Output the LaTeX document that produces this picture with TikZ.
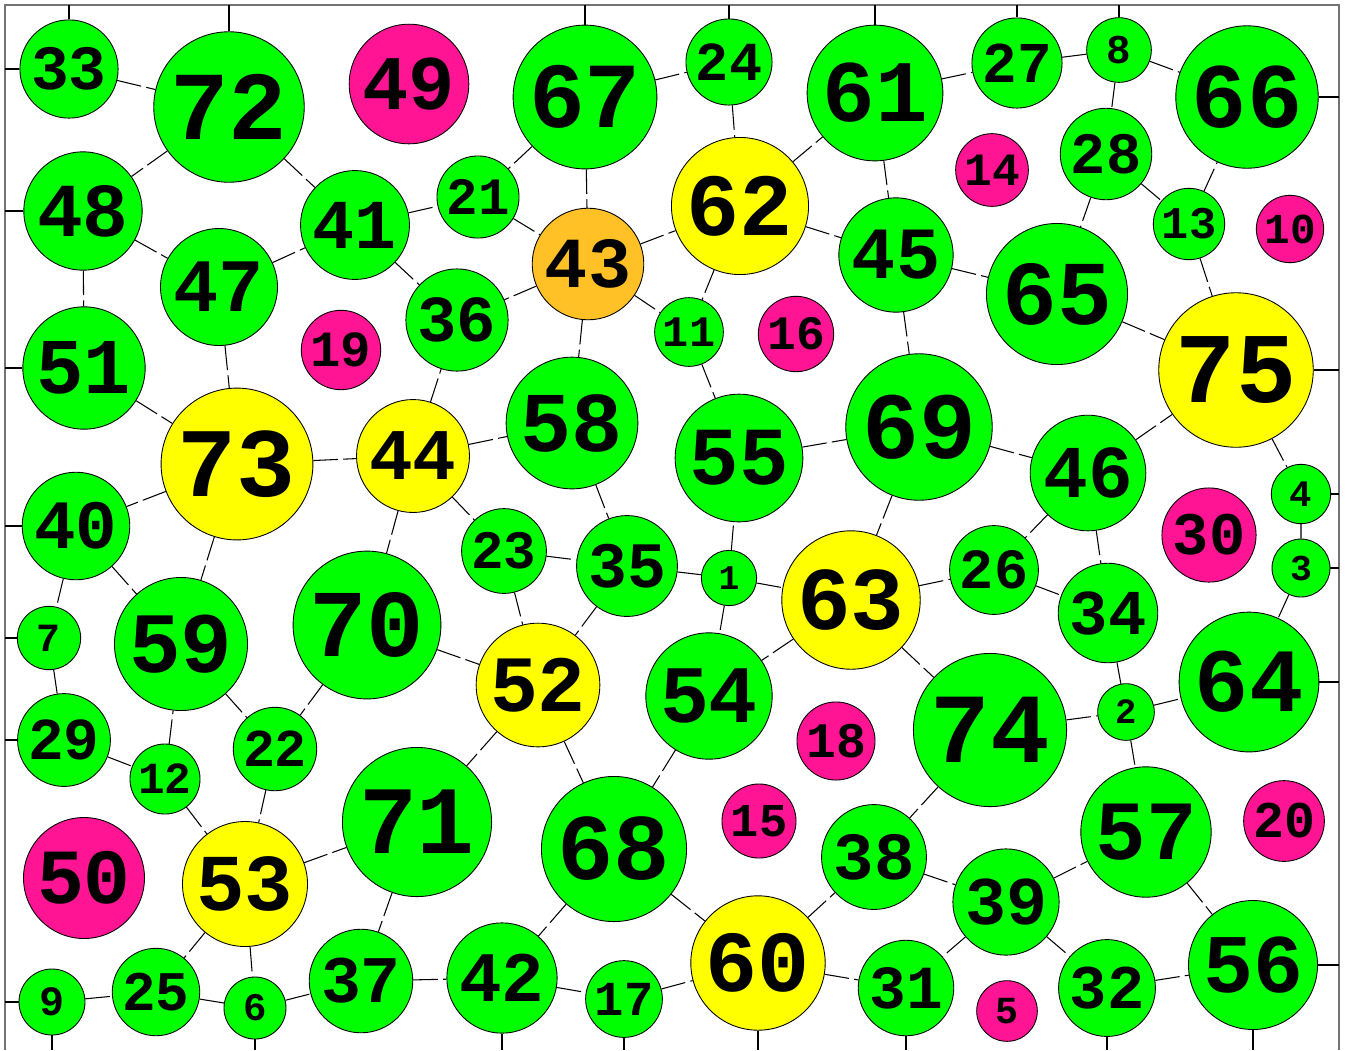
\documentclass[tikz,border=0pt]{standalone}
\usepackage{fontspec}
\setmonofont{Liberation Mono}
\usepackage{tikz}
\usetikzlibrary{calc}

\definecolor{ballgreen}{RGB}{0,255,0}
\definecolor{ballpink}{RGB}{255,20,147}
\definecolor{ballyellow}{RGB}{255,255,0}
\definecolor{ballorange}{RGB}{255,193,37}

% font size grows with the value written in the ball
\newcommand{\numfont}[1]{\pgfmathsetmacro{\numsize}{0.74*(26+0.68*#1)}\fontsize{\numsize pt}{\numsize pt}\selectfont\ttfamily\bfseries}

\begin{document}
\begin{tikzpicture}[
    x=2cm, y=-2cm,
    ball/.style={draw, circle, inner sep=0pt, line width=0.5pt, fill=ballgreen},
    lone/.style={ball, fill=ballpink},
    hub/.style={ball, fill=ballyellow},
    core/.style={ball, fill=ballorange},
    val/.style={minimum size={30.7pt+0.763pt*#1}, font=\numfont{#1}},
    link/.style={line width=0.6pt, dash pattern=on 14pt off 3pt},
    tie/.style={line width=0.6pt},
    frame/.style={line width=1pt, draw=black!55}
]
\useasboundingbox (0,0) rectangle (13.45,10.50);
\coordinate (tl) at (0.05,0.05);
\coordinate (br) at (13.39,10.50);
\draw[frame] (tl |- br) -- (tl) -- (br |- tl) -- (br);

% top row
\node[ball, val=33] (n33) at (0.69,0.69) {33};
\node[ball, val=72] (n72) at (2.29,1.07) {72};
\node[lone, val=49] (n49) at (4.09,0.84) {49};
\node[ball, val=67] (n67) at (5.85,0.97) {67};
\node[ball, val=24] (n24) at (7.29,0.62) {24};
\node[ball, val=61] (n61) at (8.75,0.93) {61};
\node[ball, val=27] (n27) at (10.17,0.63) {27};
\node[ball, val=8] (n8) at (11.19,0.50) {8};
\node[ball, val=66] (n66) at (12.47,0.97) {66};

\node[ball, val=48] (n48) at (0.83,2.11) {48};
\node[ball, val=41] (n41) at (3.55,2.25) {41};
\node[ball, val=21] (n21) at (4.78,1.97) {21};
\node[core, val=43] (n43) at (5.88,2.64) {43};
\node[hub, val=62] (n62) at (7.40,2.06) {62};
\node[lone, val=14] (n14) at (9.92,1.70) {14};
\node[ball, val=28] (n28) at (11.06,1.54) {28};
\node[ball, val=45] (n45) at (8.96,2.55) {45};
\node[ball, val=13] (n13) at (11.89,2.24) {13};
\node[lone, val=10] (n10) at (12.90,2.29) {10};
\node[ball, val=47] (n47) at (2.19,2.87) {47};
\node[ball, val=36] (n36) at (4.57,3.20) {36};
\node[ball, val=65] (n65) at (10.57,2.94) {65};
\node[hub, val=75] (n75) at (12.36,3.70) {75};

% middle rows
\node[ball, val=51] (n51) at (0.84,3.68) {51};
\node[lone, val=19] (n19) at (3.41,3.50) {19};
\node[ball, val=11] (n11) at (6.89,3.32) {11};
\node[lone, val=16] (n16) at (7.96,3.34) {16};
\node[hub, val=73] (n73) at (2.37,4.64) {73};
\node[hub, val=44] (n44) at (4.13,4.56) {44};
\node[ball, val=58] (n58) at (5.72,4.23) {58};
\node[ball, val=55] (n55) at (7.39,4.58) {55};
\node[ball, val=69] (n69) at (9.19,4.27) {69};
\node[ball, val=46] (n46) at (10.88,4.73) {46};
\node[ball, val=4] (n4) at (13.01,4.94) {4};
\node[ball, val=40] (n40) at (0.76,5.26) {40};
\node[lone, val=30] (n30) at (12.09,5.35) {30};
\node[ball, val=3] (n3) at (13.01,5.68) {3};
\node[ball, val=23] (n23) at (5.04,5.51) {23};
\node[ball, val=35] (n35) at (6.27,5.66) {35};
\node[ball, val=1] (n1) at (7.29,5.78) {1};
\node[hub, val=63] (n63) at (8.51,6.00) {63};
\node[ball, val=26] (n26) at (9.94,5.70) {26};
\node[ball, val=34] (n34) at (11.08,6.13) {34};
\node[ball, val=7] (n7) at (0.49,6.38) {7};
\node[ball, val=59] (n59) at (1.81,6.44) {59};
\node[ball, val=70] (n70) at (3.67,6.25) {70};
\node[hub, val=52] (n52) at (5.38,6.85) {52};
\node[ball, val=54] (n54) at (7.09,6.96) {54};
\node[ball, val=74] (n74) at (9.90,7.30) {74};
\node[ball, val=2] (n2) at (11.26,7.12) {2};
\node[ball, val=64] (n64) at (12.49,6.82) {64};

% bottom rows
\node[ball, val=29] (n29) at (0.64,7.40) {29};
\node[ball, val=12] (n12) at (1.65,7.79) {12};
\node[ball, val=22] (n22) at (2.75,7.49) {22};
\node[lone, val=18] (n18) at (8.36,7.41) {18};
\node[lone, val=15] (n15) at (7.59,8.21) {15};
\node[ball, val=71] (n71) at (4.17,8.22) {71};
\node[ball, val=57] (n57) at (11.46,8.32) {57};
\node[lone, val=20] (n20) at (12.84,8.21) {20};
\node[lone, val=50] (n50) at (0.84,8.78) {50};
\node[hub, val=53] (n53) at (2.45,8.84) {53};
\node[ball, val=68] (n68) at (6.14,8.49) {68};
\node[ball, val=38] (n38) at (8.74,8.57) {38};
\node[ball, val=39] (n39) at (10.06,9.02) {39};
\node[ball, val=9] (n9) at (0.52,10.02) {9};
\node[ball, val=25] (n25) at (1.56,9.92) {25};
\node[ball, val=6] (n6) at (2.55,10.08) {6};
\node[ball, val=37] (n37) at (3.61,9.81) {37};
\node[ball, val=42] (n42) at (5.02,9.78) {42};
\node[ball, val=17] (n17) at (6.24,9.99) {17};
\node[hub, val=60] (n60) at (7.58,9.63) {60};
\node[ball, val=31] (n31) at (9.06,9.88) {31};
\node[lone, val=5] (n5) at (10.07,10.11) {5};
\node[ball, val=32] (n32) at (11.07,9.88) {32};
\node[ball, val=56] (n56) at (12.53,9.65) {56};

% links between balls
\draw[link] (n33) -- (n72) (n72) -- (n48) (n72) -- (n41) (n48) -- (n47) (n48) -- (n51);
\draw[link] (n47) -- (n41) (n47) -- (n73) (n41) -- (n21) (n41) -- (n36);
\draw[link] (n67) -- (n24) (n24) -- (n62) (n67) -- (n21) (n67) -- (n43) (n21) -- (n43);
\draw[link] (n43) -- (n62) (n62) -- (n61) (n61) -- (n45) (n62) -- (n45) (n43) -- (n36);
\draw[link] (n43) -- (n11) (n62) -- (n11) (n43) -- (n58) (n61) -- (n27) (n27) -- (n8);
\draw[link] (n8) -- (n66) (n8) -- (n28) (n28) -- (n13) (n13) -- (n66) (n28) -- (n65);
\draw[link] (n45) -- (n65) (n13) -- (n75) (n65) -- (n75) (n45) -- (n69);
\draw[link] (n51) -- (n73) (n73) -- (n44) (n73) -- (n40) (n40) -- (n7) (n40) -- (n59);
\draw[link] (n73) -- (n59) (n44) -- (n70) (n44) -- (n36) (n7) -- (n29) (n70) -- (n52);
\draw[link] (n59) -- (n22) (n70) -- (n22) (n44) -- (n58) (n58) -- (n35) (n44) -- (n23);
\draw[link] (n23) -- (n35) (n23) -- (n52) (n35) -- (n52) (n35) -- (n1) (n1) -- (n55);
\draw[link] (n1) -- (n63) (n1) -- (n54) (n11) -- (n55) (n55) -- (n69) (n69) -- (n63);
\draw[link] (n63) -- (n54) (n69) -- (n46) (n46) -- (n75) (n75) -- (n4) (n4) -- (n3);
\draw[link] (n3) -- (n64) (n46) -- (n26) (n46) -- (n34) (n63) -- (n26) (n26) -- (n34);
\draw[link] (n34) -- (n2) (n63) -- (n74) (n2) -- (n64) (n74) -- (n2) (n2) -- (n57);
\draw[link] (n29) -- (n12) (n12) -- (n59) (n12) -- (n53) (n22) -- (n53) (n53) -- (n71);
\draw[link] (n71) -- (n37) (n53) -- (n25) (n53) -- (n6) (n9) -- (n25) (n25) -- (n6);
\draw[link] (n6) -- (n37) (n37) -- (n42) (n52) -- (n71) (n52) -- (n68) (n54) -- (n68);
\draw[link] (n68) -- (n42) (n68) -- (n60) (n60) -- (n38) (n42) -- (n17) (n17) -- (n60);
\draw[link] (n60) -- (n31) (n74) -- (n38) (n38) -- (n39) (n39) -- (n57) (n57) -- (n56);
\draw[link] (n39) -- (n31) (n39) -- (n32) (n32) -- (n56);

% ties to the frame
\draw[tie] (n33) -- (n33 -| tl) (n48) -- (n48 -| tl) (n51) -- (n51 -| tl) (n40) -- (n40 -| tl);
\draw[tie] (n7) -- (n7 -| tl) (n29) -- (n29 -| tl) (n9) -- (n9 -| tl);
\draw[tie] (n33) -- (n33 |- tl) (n72) -- (n72 |- tl) (n67) -- (n67 |- tl) (n24) -- (n24 |- tl);
\draw[tie] (n61) -- (n61 |- tl) (n27) -- (n27 |- tl) (n8) -- (n8 |- tl);
\draw[tie] (n66) -- (n66 -| br) (n75) -- (n75 -| br) (n4) -- (n4 -| br) (n3) -- (n3 -| br);
\draw[tie] (n64) -- (n64 -| br) (n56) -- (n56 -| br);
\draw[tie] (n9) -- (n9 |- br) (n6) -- (n6 |- br) (n42) -- (n42 |- br) (n17) -- (n17 |- br);
\draw[tie] (n60) -- (n60 |- br) (n31) -- (n31 |- br) (n32) -- (n32 |- br) (n56) -- (n56 |- br);

\end{tikzpicture}
\end{document}
